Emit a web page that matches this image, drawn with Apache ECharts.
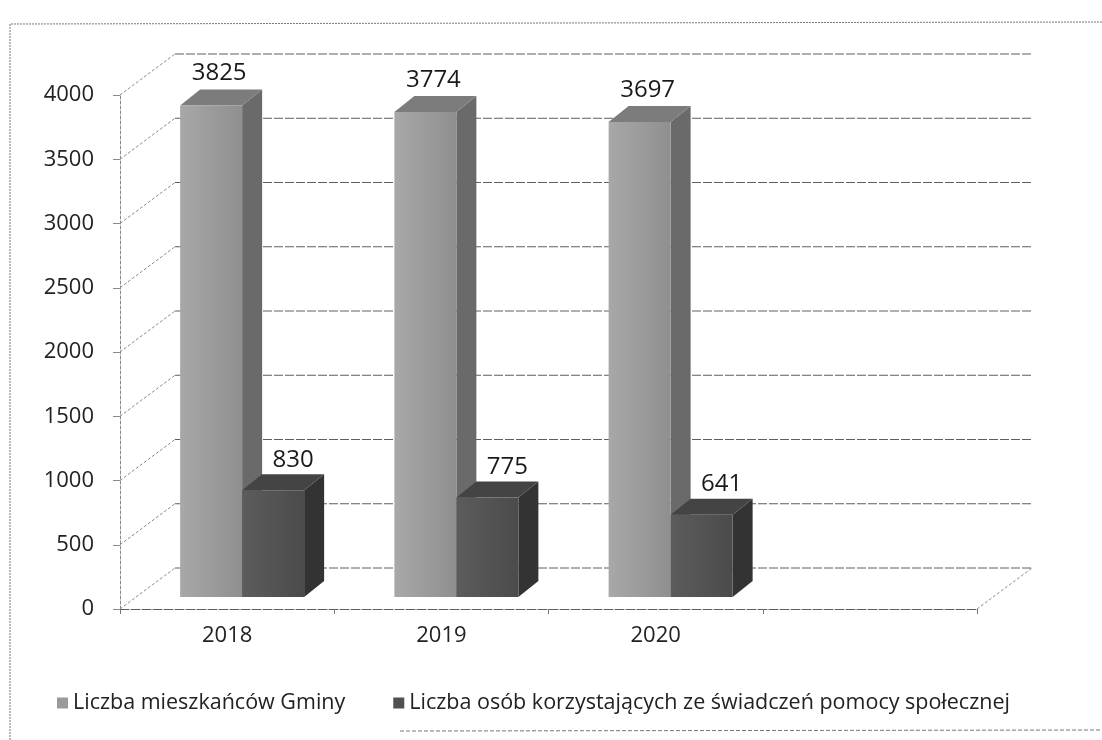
<!DOCTYPE html>
<html>
<head>
<meta charset="utf-8">
<script src="https://cdn.jsdelivr.net/npm/echarts@6/dist/echarts.min.js"></script>
<style>
  html, body { margin: 0; padding: 0; background: #fff; }
  #chart { width: 1102px; height: 740px; }
</style>
</head>
<body>
<div id="chart"></div>
<script>
const years = ["2018", "2019", "2020", ""];
const residents = [3825, 3774, 3697];
const beneficiaries = [830, 775, 641];
const yTicks = [0, 500, 1000, 1500, 2000, 2500, 3000, 3500, 4000];
const seriesNames = [
  "Liczba mieszkańców Gminy",
  "Liczba osób korzystających ze świadczeń pomocy społecznej",
];

const FONT = "'Open Sans', 'DejaVu Sans', sans-serif";
// przesunięcie tylnej ściany (pseudo 3D)
const WALL_DX = 55, WALL_DY = -41;
// głębokość słupka
const BAR_DX = 20, BAR_DY = -16, BAR_W = 62, BAR_LIFT = 12;

const myChart = echarts.init(document.getElementById("chart"));

function wallRenderer(params, api) {
  const cs = params.coordSys;
  const v = api.value(1);
  const p = api.coord([0, v]);
  const x0 = cs.x, x1 = cs.x + cs.width;
  const diag = { stroke: "#8a8a8a", lineWidth: 1, lineDash: [3, 2] };
  const children = [
    {
      type: "line",
      shape: { x1: x0 + WALL_DX, y1: p[1] + WALL_DY, x2: x1 + WALL_DX, y2: p[1] + WALL_DY },
      style: { stroke: "#5e5e5e", lineWidth: 1, lineDash: [9, 2] },
    },
    {
      type: "line",
      shape: { x1: x0, y1: p[1], x2: x0 + WALL_DX, y2: p[1] + WALL_DY },
      style: diag,
    },
  ];
  if (v === 0) {
    // prawa krawędź podłogi
    children.push({
      type: "line",
      shape: { x1: x1, y1: p[1], x2: x1 + WALL_DX, y2: p[1] + WALL_DY },
      style: diag,
    });
  }
  return { type: "group", children: children };
}

function barRenderer(offset, colors, labelDx, labelDy) {
  return function (params, api) {
    const i = api.value(0);
    const v = api.value(1);
    const top = api.coord([i, v]);
    const base = api.coord([i, 0]);
    const xl = top[0] + offset;
    const xr = xl + BAR_W;
    const yt = top[1] - BAR_LIFT;
    const yb = base[1] - BAR_LIFT;
    return {
      type: "group",
      children: [
        {
          type: "polygon",
          shape: { points: [[xr, yt], [xr + BAR_DX, yt + BAR_DY], [xr + BAR_DX, yb + BAR_DY], [xr, yb]] },
          style: { fill: colors.side },
        },
        {
          type: "polygon",
          shape: { points: [[xl, yt], [xl + BAR_DX, yt + BAR_DY], [xr + BAR_DX, yt + BAR_DY], [xr, yt]] },
          style: { fill: colors.top },
        },
        {
          type: "rect",
          shape: { x: xl, y: yt, width: BAR_W, height: yb - yt },
          style: {
            fill: new echarts.graphic.LinearGradient(0, 0, 1, 0, [
              { offset: 0, color: colors.front[0] },
              { offset: 1, color: colors.front[1] },
            ]),
          },
        },
        {
          type: "text",
          x: (xl + xr) / 2 + labelDx,
          y: yt + BAR_DY - labelDy,
          style: {
            text: String(v),
            fill: "#1a1a1a",
            fontSize: 24,
            fontFamily: FONT,
            align: "center",
            verticalAlign: "middle",
          },
        },
      ],
    };
  };
}

const option = {
  backgroundColor: "#fff",
  animation: false,
  color: ["#9a9a9a", "#505050"],
  grid: { left: 120, right: 125, top: 95, bottom: 131 },
  legend: {
    data: seriesNames,
    left: 57,
    top: 692,
    padding: 0,
    itemWidth: 11,
    itemHeight: 11,
    itemGap: 48,
    icon: "rect",
    textStyle: { fontSize: 21.5, fontFamily: FONT, color: "#222" },
  },
  xAxis: {
    type: "category",
    data: years,
    axisLine: { lineStyle: { color: "#5e5e5e", type: [9, 2] } },
    axisTick: { show: true, length: 5, lineStyle: { color: "#777" } },
    axisLabel: { fontSize: 22, fontFamily: FONT, color: "#222", margin: 16 },
    splitLine: { show: false },
  },
  yAxis: {
    type: "value",
    min: 0,
    max: 4000,
    interval: 500,
    axisLine: { show: true, lineStyle: { color: "#8a8a8a", type: [3, 2] } },
    axisTick: { show: true, length: 7, lineStyle: { color: "#8a8a8a" } },
    axisLabel: {
      fontSize: 22,
      fontFamily: FONT,
      color: "#222",
      margin: 26,
      formatter: (value) => String(value),
    },
    splitLine: { show: false },
  },
  graphic: [
    {
      type: "polyline",
      shape: { points: [[10, 740], [10, 24], [1102, 22]] },
      style: { stroke: "#777", lineWidth: 1, lineDash: [2, 1], fill: null },
      silent: true,
    },
    {
      type: "line",
      shape: { x1: 400, y1: 731, x2: 1102, y2: 730 },
      style: { stroke: "#777", lineWidth: 1, lineDash: [4, 2] },
      silent: true,
    },
  ],
  series: [
    {
      name: "wall",
      type: "custom",
      renderItem: wallRenderer,
      data: yTicks.map((v) => [0, v]),
      z: 1,
      silent: true,
    },
    {
      name: seriesNames[0],
      type: "custom",
      itemStyle: { color: "#9a9a9a" },
      renderItem: barRenderer(-47, { front: ["#a8a8a8", "#8f8f8f"], side: "#6a6a6a", top: "#7c7c7c" }, 8, 16),
      data: residents.map((v, i) => [i, v]),
      z: 2,
    },
    {
      name: seriesNames[1],
      type: "custom",
      itemStyle: { color: "#505050" },
      renderItem: barRenderer(15, { front: ["#5c5c5c", "#4b4b4b"], side: "#333", top: "#444" }, 20, 14),
      data: beneficiaries.map((v, i) => [i, v]),
      z: 3,
    },
  ],
};

myChart.setOption(option);
</script>
</body>
</html>
